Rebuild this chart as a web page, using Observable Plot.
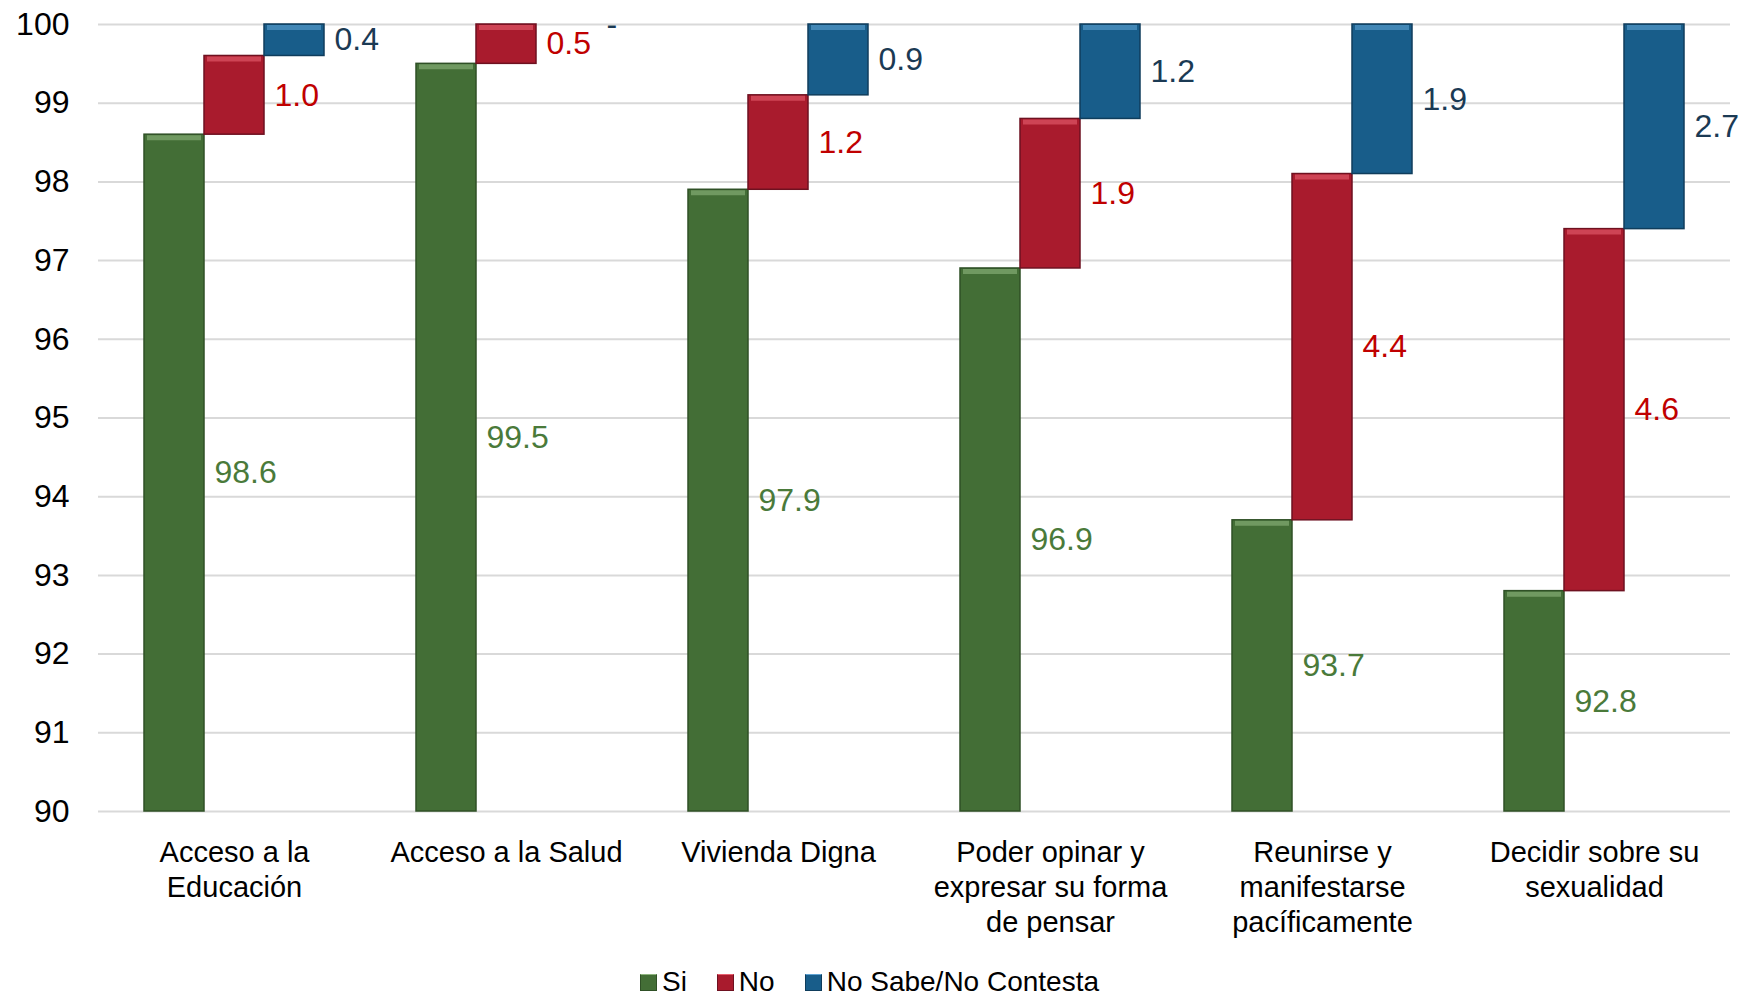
<!DOCTYPE html>
<html>
<head>
<meta charset="utf-8">
<script src="https://cdn.jsdelivr.net/npm/d3@7"></script>
<script src="https://cdn.jsdelivr.net/npm/@observablehq/plot@0.6"></script>
<style>
  html, body { margin: 0; padding: 0; background: #fff; }
  #legend { display: flex; justify-content: center; align-items: center; gap: 30px;
    font-family: "Liberation Sans", Arial, sans-serif; font-size: 28px; color: #000;
    margin-top: 18px; line-height: 1; }
  #legend .item { display: flex; align-items: center; gap: 5px; }
  #legend .sw { width: 17px; height: 17px; display: inline-block; box-sizing: border-box; }
</style>
</head>
<body>
<div id="chart"></div>
<div id="legend"></div>
<script>
const categories = [
  "Acceso a la\nEducación",
  "Acceso a la Salud",
  "Vivienda Digna",
  "Poder opinar y\nexpresar su forma\nde pensar",
  "Reunirse y\nmanifestarse\npacíficamente",
  "Decidir sobre su\nsexualidad"
];
const series = ["Si", "No", "No Sabe/No Contesta"];
const si = [98.6, 99.5, 97.9, 96.9, 93.7, 92.8];
const no = [1.0, 0.5, 1.2, 1.9, 4.4, 4.6];
const ns = [0.4, 0.0, 0.9, 1.2, 1.9, 2.7];
const yTicks = [90, 91, 92, 93, 94, 95, 96, 97, 98, 99, 100];

const barColors = ["#436e36", "#a91b2d", "#185d8a"];
const edgeColors = ["#2f5026", "#6e1120", "#0f3d5c"];
const hiColors = ["#8fb57f", "#e8606f", "#5fa3d3"];
const labelColors = ["#4a7a3a", "#c00000", "#1b3a54"];

const values = [si, no, ns];
const table = categories.flatMap((c, i) => {
  let acc = 0;
  return series.map((s, j) => {
    const v = values[j][i];
    const y1 = acc;
    acc += v;
    return {cat: c, series: s, j, v, y1, y2: acc,
      mid: (Math.max(y1, 90) + Math.min(acc, 100)) / 2,
      label: v === 0 ? "-" : v.toFixed(1)};
  });
});
const bars = table.filter(d => d.v > 0);

const chart = Plot.plot({
  width: 1739,
  height: 950,
  marginLeft: 97,
  marginRight: 9,
  marginTop: 24,
  marginBottom: 139,
  style: {fontFamily: "Liberation Sans, Arial, sans-serif", fontSize: "29px", color: "#000", background: "#fff"},
  fx: {domain: categories, padding: 0, label: null},
  x: {domain: series, paddingInner: 0, paddingOuter: 0.73, axis: null},
  y: {domain: [90, 100], clamp: true, label: null},
  color: {domain: series, range: barColors},
  marks: [
    Plot.gridY(yTicks, {stroke: "#d9d9d9", strokeOpacity: 1, strokeWidth: 2}),
    Plot.barY(bars, {fx: "cat", x: "series", y1: "y1", y2: "y2",
      fill: d => barColors[d.j], stroke: d => edgeColors[d.j], strokeWidth: 1.5}),
    Plot.tickY(bars, {fx: "cat", x: "series", y: "y2", dy: 3, insetLeft: 3, insetRight: 3,
      stroke: d => hiColors[d.j], strokeWidth: 5, strokeOpacity: 0.6}),
    Plot.text(table, {fx: "cat", x: "series", y: "mid", text: "label", dx: 40,
      textAnchor: "start", fill: d => labelColors[d.j], fontSize: 32}),
    Plot.axisY(yTicks, {tickSize: 0, tickPadding: 29, fontSize: 32, tickFormat: "d", label: null}),
    Plot.axisFx({anchor: "bottom", tickSize: 0, tickPadding: 25, fontSize: 29, lineHeight: 1.22, label: null})
  ]
});
document.getElementById("chart").appendChild(chart);

const legend = document.getElementById("legend");
series.forEach((s, j) => {
  const it = document.createElement("div");
  it.className = "item";
  const sw = document.createElement("span");
  sw.className = "sw";
  sw.style.background = barColors[j];
  sw.style.border = "1.5px solid " + edgeColors[j];
  sw.style.borderTopColor = hiColors[j];
  const tx = document.createElement("span");
  tx.textContent = s;
  it.appendChild(sw);
  it.appendChild(tx);
  legend.appendChild(it);
});
</script>
</body>
</html>
